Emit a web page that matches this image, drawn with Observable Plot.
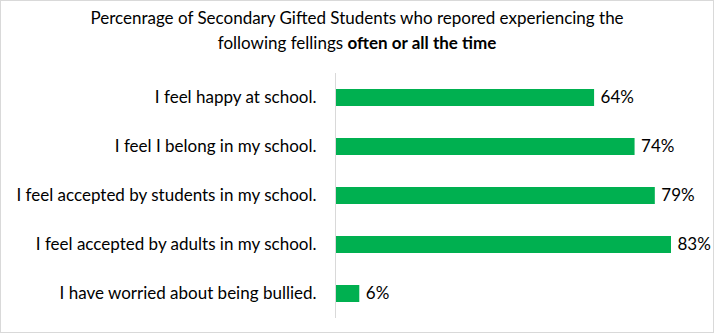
<!DOCTYPE html>
<html>
<head>
<meta charset="utf-8">
<script src="https://cdn.jsdelivr.net/npm/d3@7"></script>
<script src="https://cdn.jsdelivr.net/npm/@observablehq/plot@0.6"></script>
<style>
  body { margin: 0; background: #fff; }
  #chart { position: relative; width: 714px; height: 333px; font-family: Lato, "Open Sans", sans-serif; }
  #chart svg { position: absolute; left: 0; top: 0; }
  #title { position: absolute; left: 0; top: 5px; width: 714px; text-align: center; font-size: 17px; line-height: 25px; color: #000; }
  #border { position: absolute; left: 0; top: 0; width: 714px; height: 333px; box-sizing: border-box; border: 1px solid #d9d9d9; pointer-events: none; }
</style>
</head>
<body>
<div id="chart">
  <div id="title">Percenrage of Secondary Gifted Students who repored experiencing the<br>following fellings <b>often or all the time</b></div>
  <div id="border"></div>
</div>
<script>
const categories = [
  "I feel happy at school.",
  "I feel I belong in my school.",
  "I feel accepted by students in my school.",
  "I feel accepted by adults in my school.",
  "I have worried about being bullied."
];
const values = [64, 74, 79, 83, 6];

const data = categories.map((c, i) => ({category: c, value: values[i]}));

const plot = Plot.plot({
  width: 714,
  height: 333,
  marginTop: 73,
  marginBottom: 15,
  marginLeft: 335,
  marginRight: 43,
  style: {fontFamily: "Lato, 'Open Sans', sans-serif", fontSize: "17px", color: "#000", background: "transparent"},
  x: {domain: [0, 83], axis: null},
  y: {domain: categories, paddingInner: 0.66, paddingOuter: 0.33, label: null, axis: null},
  marks: [
    Plot.barX(data, {x: "value", y: "category", fill: "#00B050"}),
    Plot.ruleX([0], {stroke: "#d9d9d9"}),
    Plot.text(data, {x: "value", y: "category", text: d => d.value + "%", dx: 6, textAnchor: "start", fontSize: 17, fill: "#000"}),
    Plot.axisY({tickSize: 0, tickPadding: 19, fontSize: 17, label: null})
  ]
});
document.getElementById("chart").prepend(plot);
</script>
</body>
</html>
